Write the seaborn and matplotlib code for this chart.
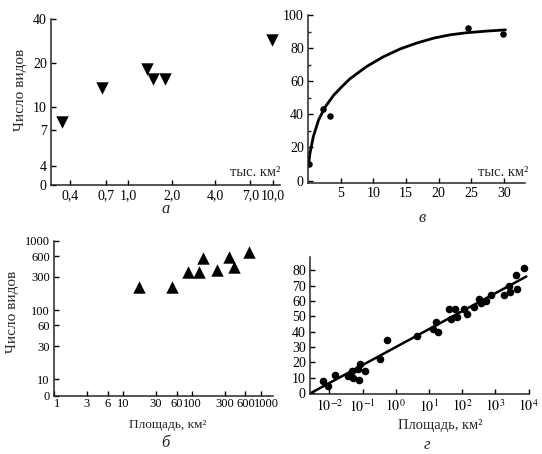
import matplotlib
matplotlib.use("Agg")
import matplotlib.pyplot as plt
import matplotlib.transforms as mtransforms
import seaborn as sns
from matplotlib.ticker import FixedLocator, MultipleLocator, NullLocator


# panel а: islands, thousand km2 vs number of species (log-log)
A_AREA = [0.35, 0.66, 1.35, 1.49, 1.80, 9.84]
A_SPECIES = [7.9, 13.5, 18.2, 15.6, 15.6, 28.8]
A_XTICKS = [0.4, 0.7, 1.0, 2.0, 4.0, 7.0, 10.0]
A_XLABELS = ["0,4", "0,7", "1,0", "2,0", "4,0", "7,0", "10,0"]
A_YTICKS = [2.95, 4, 7, 10, 20, 40]
A_YLABELS = ["0", "4", "7", "10", "20", "40"]

# panel в: linear axes with a saturating curve
V_AREA = [0.1, 2.3, 3.3, 24.5, 29.8]
V_SPECIES = [10, 43, 38.8, 92, 88.4]
V_CURVE_X = [0.05, 0.3, 0.8, 1.6, 2.6, 3.9, 5.0, 6.4, 8.9, 11.5, 14.1,
             16.6, 19.2, 21.7, 24.3, 27.4, 30.2]
V_CURVE_Y = [9, 16.4, 26.3, 36.4, 44.3, 51.4, 56, 61.4, 68.7, 74.7, 79.5,
             83, 86, 88, 89.3, 90.3, 91]

# panel б: km2 vs species (log-log)
B_AREA = [17.2, 52.3, 87.5, 128, 146, 230, 351, 410, 684]
B_SPECIES = [213, 213, 355, 355, 570, 384, 581, 414, 684]
B_XTICKS = [1, 3, 6, 10, 30, 60, 100, 300, 600, 1000]
B_YTICKS = [5.87, 10, 30, 60, 100, 300, 600, 1000]
B_YLABELS = ["0", "10", "30", "60", "100", "300", "600", "1000"]

# panel г: semi-log with a straight fitted line
G_AREA = [0.0066, 0.0093, 0.0145, 0.0355, 0.049, 0.0525, 0.072, 0.083,
          0.079, 0.115, 0.33, 0.55, 4.5, 12.9, 15.8, 18.2, 39, 45, 60, 69,
          110, 138, 224, 309, 355, 513, 759, 1820, 2570, 2820, 4270, 4470,
          7240]
G_SPECIES = [8.0, 4.6, 12, 11.1, 14.1, 9.6, 15.9, 18.9, 8.5, 14.6, 22.2,
             34.6, 37.2, 42, 46.5, 39.6, 54.6, 48.5, 54.6, 49.8, 54.8, 51.5,
             55.9, 61.5, 58.5, 60, 63.9, 63.9, 70, 66.1, 76.8, 67.6, 81.3]
G_LINE_X = [0.0028, 8500]
G_LINE_Y = [0, 76]
G_XTICKS = [1e-2, 1e-1, 1e0, 1e1, 1e2, 1e3, 1e4]
G_XLABELS = [r"$10^{%d}$" % p for p in range(-2, 5)]

W, H = 542, 454
FONT = "Liberation Serif"


def box(left, top, right, bottom):
    # pixel box -> figure fraction
    return [left / W, (H - bottom) / H, (right - left) / W, (bottom - top) / H]


def style_axes(ax, size=10):
    sns.despine(ax=ax)
    ax.tick_params(direction="in", length=3.5, width=1, labelsize=size,
                   pad=3, colors="black")
    ax.tick_params(which="minor", direction="in", length=2.5, width=1)
    ax.set_xlabel("")
    ax.set_ylabel("")


def main():
    sns.set_theme(style="ticks")
    plt.rcParams["font.family"] = [FONT, "DejaVu Serif"]
    plt.rcParams["mathtext.fontset"] = "stix"
    plt.rcParams["axes.linewidth"] = 1.1

    fig = plt.figure(figsize=(W / 100, H / 100), dpi=100)

    # а
    ax = fig.add_axes(box(51, 19.3, 280, 185))
    sns.scatterplot(x=A_AREA, y=A_SPECIES, ax=ax, marker="v", s=80,
                    color="black", edgecolor="black", linewidth=0)
    ax.set_xscale("log")
    ax.set_yscale("log")
    ax.set_xlim(0.294, 11.2)
    ax.set_ylim(2.95, 40)
    ax.xaxis.set_major_locator(FixedLocator(A_XTICKS))
    ax.set_xticklabels(A_XLABELS)
    ax.yaxis.set_major_locator(FixedLocator(A_YTICKS))
    ax.set_yticklabels(A_YLABELS)
    ax.xaxis.set_minor_locator(NullLocator())
    ax.yaxis.set_minor_locator(NullLocator())
    style_axes(ax)

    # в
    ax = fig.add_axes(box(308, 15, 525, 183))
    sns.lineplot(x=V_CURVE_X, y=V_CURVE_Y, ax=ax, color="black", lw=2.0,
                 sort=False, estimator=None)
    sns.scatterplot(x=V_AREA, y=V_SPECIES, ax=ax, s=22, color="black",
                    edgecolor="black", linewidth=0)
    ax.set_xlim(0, 33.2)
    ax.set_ylim(-1.5, 100)
    ax.set_xticks([5, 10, 15, 20, 25, 30])
    ax.set_yticks([0, 20, 40, 60, 80, 100])
    ax.yaxis.set_minor_locator(MultipleLocator(10))
    style_axes(ax)

    # б
    ax = fig.add_axes(box(54, 240.7, 273, 395.5))
    sns.scatterplot(x=B_AREA, y=B_SPECIES, ax=ax, marker="^", s=80,
                    color="black", edgecolor="black", linewidth=0)
    ax.set_xscale("log")
    ax.set_yscale("log")
    ax.set_xlim(1.0, 1507)
    ax.set_ylim(5.87, 1000)
    ax.xaxis.set_major_locator(FixedLocator(B_XTICKS))
    ax.set_xticklabels([str(t) for t in B_XTICKS])
    ax.yaxis.set_major_locator(FixedLocator(B_YTICKS))
    ax.set_yticklabels(B_YLABELS)
    ax.xaxis.set_minor_locator(NullLocator())
    ax.yaxis.set_minor_locator(NullLocator())
    style_axes(ax, size=9)
    ax.tick_params(axis="x", pad=2)
    # the printed figure nudges the end labels apart
    labels = ax.get_xticklabels()
    nudge = {0: 3 / 100, len(labels) - 1: 6 / 100}
    for i, dx in nudge.items():
        labels[i].set_transform(labels[i].get_transform() +
                                mtransforms.ScaledTranslation(dx, 0, fig.dpi_scale_trans))

    # г
    ax = fig.add_axes(box(310, 257, 529, 394))
    sns.lineplot(x=G_LINE_X, y=G_LINE_Y, ax=ax, color="black", lw=1.8,
                 estimator=None)
    sns.scatterplot(x=G_AREA, y=G_SPECIES, ax=ax, s=30, color="black",
                    edgecolor="black", linewidth=0)
    ax.set_xscale("log")
    ax.set_xlim(0.00263, 1.02e4)
    ax.set_ylim(-0.65, 88.7)
    ax.xaxis.set_major_locator(FixedLocator(G_XTICKS))
    ax.set_xticklabels(G_XLABELS)
    ax.xaxis.set_minor_locator(NullLocator())
    ax.set_yticks(range(0, 90, 10))
    style_axes(ax)

    # texts
    def px_text(x, y, s, **kw):
        fig.text(x / W, 1 - y / H, s, ha=kw.pop("ha", "center"),
                 va=kw.pop("va", "center"), **kw)

    px_text(21, 90, "Число видов", rotation=90, fontsize=11)
    px_text(13, 312, "Число видов", rotation=90, fontsize=11)
    px_text(280, 172, "тыс. км²", ha="right", fontsize=10.5)
    px_text(528, 172, "тыс. км²", ha="right", fontsize=10.5)
    px_text(168, 425, "Площадь, км²", fontsize=9.5)
    px_text(440, 425, "Площадь, км²", fontsize=10.5)
    px_text(166, 209, "а", fontsize=12, style="italic")
    px_text(422, 218, "в", fontsize=12, style="italic")
    px_text(165, 443, "б", fontsize=12, style="italic")
    px_text(427, 445, "г", fontsize=12, style="italic")

    fig.savefig("out.png", dpi=100)
    plt.close(fig)


if __name__ == "__main__":
    main()
